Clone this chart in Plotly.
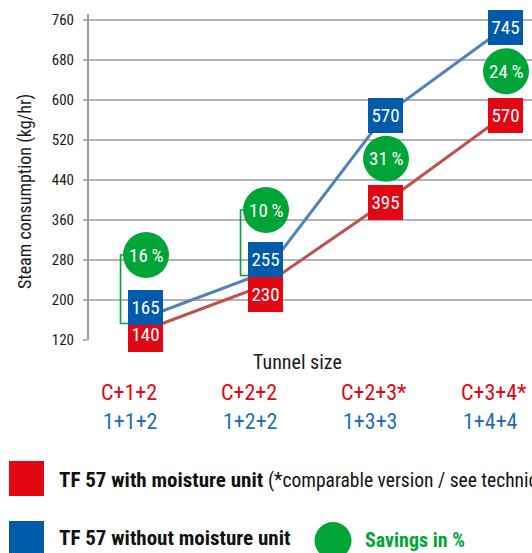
import plotly.graph_objects as go

# ---------------- data ----------------
categories = ["C+1+2", "C+2+2", "C+2+3*", "C+3+4*"]
categories_alt = ["1+1+2", "1+2+2", "1+3+3", "1+4+4"]
with_unit = [140, 230, 395, 570]       # TF 57 with moisture unit
without_unit = [165, 255, 570, 745]    # TF 57 without moisture unit
savings = [16, 10, 31, 24]             # savings in %
y_ticks = [120, 200, 280, 360, 440, 520, 600, 680, 760]

# ---------------- style ----------------
FONT = "Liberation Sans Narrow, Arial Narrow, Roboto Condensed, Liberation Sans, sans-serif"
RED = "#e30613"
BLUE = "#005baa"
GREEN = "#00a538"
RED_LINE = "#c0504d"
BLUE_LINE = "#4f81bd"
LBL_BLUE = "#1f6fb8"
GRID = "#b3b3b3"

W_FIG, H_FIG = 532, 553
L, R, T, B = 89, 532, 14, 340
PW, PH = R - L, B - T


def px(xp):
    return (xp - L) / PW


def py(yp):
    return (B - yp) / PH


xs = list(range(len(categories)))

fig = go.Figure()
fig.add_trace(go.Scatter(x=xs, y=with_unit, mode="lines",
                         line=dict(color=RED_LINE, width=3), hoverinfo="skip"))
fig.add_trace(go.Scatter(x=xs, y=without_unit, mode="lines",
                         line=dict(color=BLUE_LINE, width=3), hoverinfo="skip"))

ann = []
shapes = []

# box offsets (pixels) to avoid overlap where values are close
red_shift = [-4.5, -9, 0, 0]
blue_shift = [10, 13, 0, 0]
circle_above = [True, True, False, False]

for i in xs:
    ann.append(dict(x=i, y=with_unit[i], xref="x", yref="y", text=str(with_unit[i]),
                    showarrow=False, bgcolor=RED, width=35, height=35, borderpad=0,
                    borderwidth=0, yshift=red_shift[i], xanchor="center", yanchor="middle",
                    font=dict(family=FONT, size=19, color="white")))
for i in xs:
    ann.append(dict(x=i, y=without_unit[i], xref="x", yref="y", text=str(without_unit[i]),
                    showarrow=False, bgcolor=BLUE, width=35, height=35, borderpad=0,
                    borderwidth=0, yshift=blue_shift[i], xanchor="center", yanchor="middle",
                    font=dict(family=FONT, size=19, color="white")))

for i in xs:
    if circle_above[i]:
        anchor = without_unit[i]
        off = 62.5
        # bracket connecting circle and box
        shapes.append(dict(type="path", xref="x", yref="y", xsizemode="pixel",
                           ysizemode="pixel", xanchor=i, yanchor=anchor,
                           path=f"M -21,{off} L -24.5,{off} L -24.5,{blue_shift[i]-16} L -15,{blue_shift[i]-16}",
                           line=dict(color=GREEN, width=1.6), layer="above"))
    else:
        anchor = (with_unit[i] + without_unit[i]) / 2
        off = 0
    shapes.append(dict(type="circle", xref="x", yref="y", xsizemode="pixel",
                       ysizemode="pixel", xanchor=i, yanchor=anchor,
                       x0=-23 + 1, x1=23 + 1, y0=off - 23, y1=off + 23,
                       fillcolor=GREEN, line=dict(width=0), layer="above"))
    ann.append(dict(x=i, y=anchor, xref="x", yref="y", text=f"{savings[i]}\u2009%",
                    showarrow=False, xshift=1, yshift=off, xanchor="center", yanchor="middle",
                    font=dict(family=FONT, size=19, color="white")))

# axis texts
ann.append(dict(x=px(25), y=py(192), xref="paper", yref="paper", textangle=-90,
                xanchor="center", yanchor="middle",
                text="Steam consumption (kg/hr)", showarrow=False,
                font=dict(family=FONT, size=18, color="#1a1a1a")))
ann.append(dict(x=px(297), y=py(362), xref="paper", yref="paper",
                xanchor="center", yanchor="middle",
                text="Tunnel size", showarrow=False,
                font=dict(family=FONT, size=20, color="#1a1a1a")))

for i in xs:
    ann.append(dict(x=i, y=py(392), xref="x", yref="paper", text=categories[i],
                    showarrow=False, xanchor="left", yanchor="middle", xshift=-46,
                    font=dict(family=FONT, size=22, color=RED)))
    ann.append(dict(x=i, y=py(422), xref="x", yref="paper", text=categories_alt[i],
                    showarrow=False, xanchor="left", yanchor="middle", xshift=-44,
                    font=dict(family=FONT, size=22, color=LBL_BLUE)))

# legend
shapes.append(dict(type="rect", xref="paper", yref="paper", x0=px(9), x1=px(44),
                   y0=py(496), y1=py(461), fillcolor=RED, line=dict(width=0)))
shapes.append(dict(type="rect", xref="paper", yref="paper", x0=px(9), x1=px(44),
                   y0=py(556), y1=py(521), fillcolor=BLUE, line=dict(width=0)))
shapes.append(dict(type="circle", xref="paper", yref="paper", x0=px(314.5), x1=px(351.5),
                   y0=py(559), y1=py(522), fillcolor=GREEN, line=dict(width=0)))
ann.append(dict(x=px(57), y=py(480), xref="paper", yref="paper", xanchor="left",
                yanchor="middle",
                text="<b>TF 57 with moisture unit</b> <span style='font-size:19.5px'>(*comparable version / see technical data)</span>",
                showarrow=False, font=dict(family=FONT, size=21, color="#111")))
ann.append(dict(x=px(57), y=py(538), xref="paper", yref="paper", xanchor="left",
                yanchor="middle",
                text="<b>TF 57 without moisture unit</b>",
                showarrow=False, font=dict(family=FONT, size=21, color="#111")))
ann.append(dict(x=px(363), y=py(540), xref="paper", yref="paper", xanchor="left",
                yanchor="middle",
                text="<b>Savings in %</b>",
                showarrow=False, font=dict(family=FONT, size=20, color=GREEN)))

fig.update_layout(
    width=W_FIG, height=H_FIG,
    margin=dict(l=L, r=W_FIG - R, t=T, b=H_FIG - B, pad=0),
    paper_bgcolor="white", plot_bgcolor="white",
    showlegend=False,
    xaxis=dict(range=[-0.467, 3.225], showgrid=False, zeroline=False,
               showticklabels=False, showline=False, fixedrange=True),
    yaxis=dict(range=[120, 772], tickvals=y_ticks, showgrid=True, gridcolor=GRID,
               gridwidth=1.5, zeroline=False, showline=True, linecolor="#9a9a9a",
               linewidth=2, ticks="outside", ticklen=4, tickcolor=GRID, tickwidth=1.5,
               ticklabelstandoff=6,
               tickfont=dict(family=FONT, size=15, color="#1a1a1a")),
    annotations=ann, shapes=shapes,
)

fig.write_html(
    "out.html",
    config={"displayModeBar": False, "staticPlot": True},
    post_script="document.body.style.margin='0';document.body.style.overflow='hidden';",
)
